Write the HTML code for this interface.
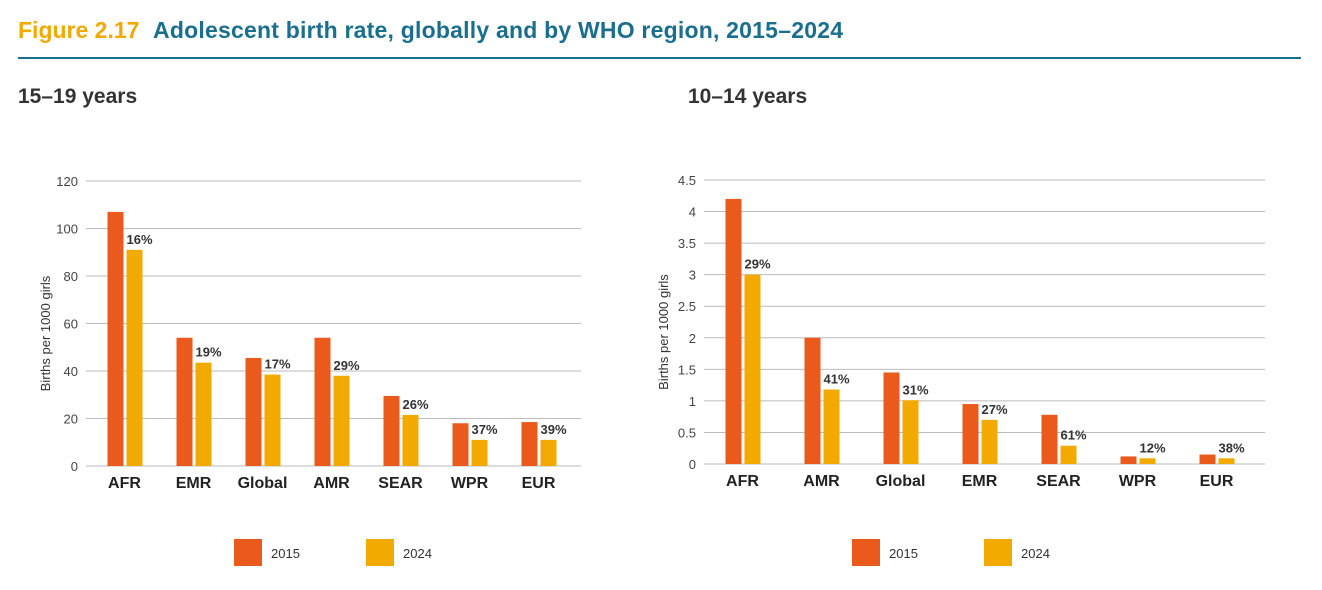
<!DOCTYPE html>
<html><head><meta charset="utf-8"><style>
body{margin:0;width:1322px;height:590px;background:#fff;font-family:"Liberation Sans",sans-serif;overflow:hidden}
svg{position:absolute;left:0;top:0}
</style></head><body>
<svg width="1322" height="590">
<text x="18" y="38" font-size="23" font-weight="bold" fill="#f2a900">Figure 2.17</text>
<text x="153" y="38" font-size="23" font-weight="bold" fill="#1a6e8e" textLength="690">Adolescent birth rate, globally and by WHO region, 2015–2024</text>
<line x1="18" y1="58" x2="1301" y2="58" stroke="#1a6e8e" stroke-width="2"/>
<text x="18" y="103" font-size="21" font-weight="bold" fill="#333">15–19 years</text>
<text x="688" y="103" font-size="21" font-weight="bold" fill="#333">10–14 years</text>
<g id="left"></g>
<g id="right"></g>
</svg>
<script>
const catsL=["AFR","EMR","Global","AMR","SEAR","WPR","EUR"];
const v2015L=[107,54,45.5,54,29.5,18,18.5];
const v2024L=[91,43.5,38.5,38,21.5,11,11];
const pctL=["16%","19%","17%","29%","26%","37%","39%"];
const ticksL=[0,20,40,60,80,100,120];
const catsR=["AFR","AMR","Global","EMR","SEAR","WPR","EUR"];
const v2015R=[4.2,2.0,1.45,0.95,0.78,0.12,0.15];
const v2024R=[3.0,1.18,1.01,0.7,0.29,0.09,0.09];
const pctR=["29%","41%","31%","27%","61%","12%","38%"];
const ticksR=[0,0.5,1,1.5,2,2.5,3,3.5,4,4.5];
const NS="http://www.w3.org/2000/svg";
function mk(p,t,a,txt){const e=document.createElementNS(NS,t);for(const k in a)e.setAttribute(k,a[k]);if(txt!=null)e.textContent=txt;p.appendChild(e);return e;}
function chart(g,cats,a,b,pct,ticks,o){
 const y=v=>o.y0-(v/o.max)*(o.y0-o.yTop);
 const band=(o.x1-o.x0)/cats.length;
 const cx=i=>o.x0+band*(i+0.5);
 ticks.forEach(t=>{
  const l=mk(g,"line",{x1:o.gx,x2:o.gx2,y1:y(t),y2:y(t),stroke:"#bbb","stroke-width":1});
  
  
  const tx=mk(g,"text",{x:o.gx-8,y:y(t)+5,"text-anchor":"end","font-size":13,fill:"#444"},String(t));
  
  
 });
 const yt=mk(g,"text",{transform:`translate(${o.gx-36},${(o.y0+o.yTop)/2+10}) rotate(-90)`,"text-anchor":"middle","font-size":13,fill:"#333"},"Births per 1000 girls");
 
 
 cats.forEach((c,i)=>{
  const r1=mk(g,"rect",{x:cx(i)-17,y:y(a[i]),width:16,height:o.y0-y(a[i]),fill:"#e95a1c"});
  
  
  const r2=mk(g,"rect",{x:cx(i)+2,y:y(b[i]),width:16,height:o.y0-y(b[i]),fill:"#f2a900"});
  
  
  const p=mk(g,"text",{x:cx(i)+2,y:y(b[i])-6,"font-size":13,"font-weight":"bold",fill:"#333"},pct[i]);
  
  
  const cl=mk(g,"text",{x:cx(i),y:o.y0+22,"text-anchor":"middle","font-size":16,"font-weight":"bold",fill:"#222"},c);
  
  
 });
 [["2015","#e95a1c",o.lx],["2024","#f2a900",o.lx+132]].forEach(([t,col,x])=>{
  const s=mk(g,"rect",{x:x,y:539,width:28,height:27,fill:col});
  
  
  const lt=mk(g,"text",{x:x+37,y:558,"font-size":13,fill:"#333"},t);
  
  
 });
}
chart(document.getElementById('left'),catsL,v2015L,v2024L,pctL,ticksL,{x0:90,x1:573,gx:86,gx2:581,y0:466,yTop:181,max:120,lx:234});
chart(document.getElementById('right'),catsR,v2015R,v2024R,pctR,ticksR,{x0:703,x1:1256,gx:704,gx2:1265,y0:464,yTop:180,max:4.5,lx:852});
</script>
</body></html>
